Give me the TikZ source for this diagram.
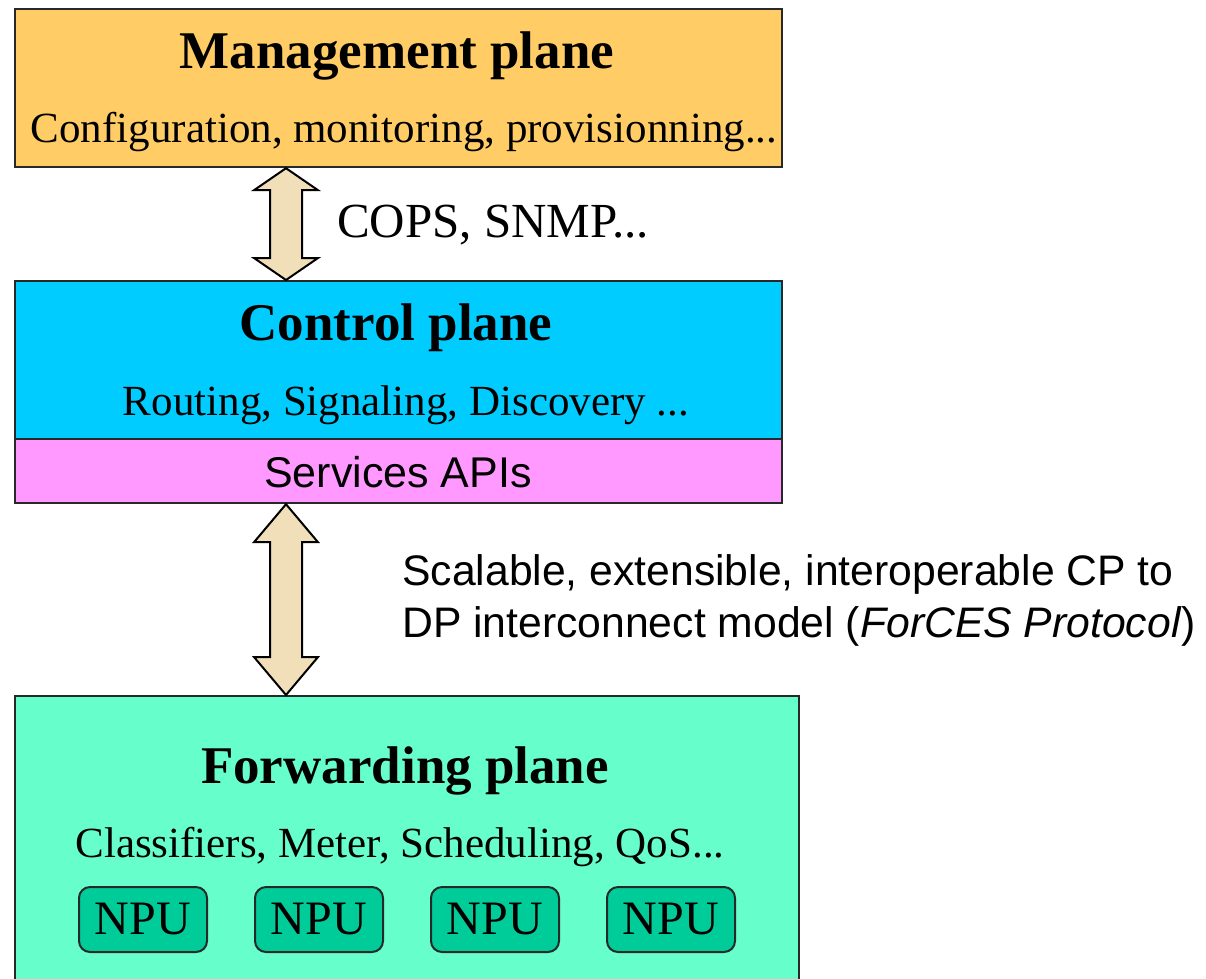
\documentclass[tikz,border=0pt]{standalone}
\usepackage{fontspec}
\setmainfont{Liberation Serif}
\setsansfont{Liberation Sans}
\usetikzlibrary{calc}
\definecolor{mgmtc}{RGB}{255,204,102}
\definecolor{ctrlc}{RGB}{0,204,255}
\definecolor{apic}{RGB}{255,153,255}
\definecolor{fwdc}{RGB}{102,255,204}
\definecolor{npuc}{RGB}{0,204,153}
\definecolor{arrc}{RGB}{241,223,186}
\definecolor{edgec}{RGB}{40,40,40}
\tikzset{
  plane/.style={draw=edgec, line width=2.2pt, inner sep=0pt, anchor=north west},
  title/.style={font=\fontsize{53}{60}\selectfont\bfseries, anchor=base, inner sep=0pt},
  sub/.style={font=\fontsize{43}{50}\selectfont, anchor=base, inner sep=0pt},
  sans/.style={font=\sffamily\fontsize{42.7}{50}\selectfont, anchor=base west, inner sep=0pt},
  npubox/.style={draw=edgec, line width=2pt, fill=npuc, rounded corners=11pt, minimum width=128pt, minimum height=65pt, inner sep=0pt, anchor=north west, font=\fontsize{48}{50}\selectfont},
  dblarrow/.style={draw=black, line width=2pt, fill=arrc, line join=miter}
}
\begin{document}
\begin{tikzpicture}[x=1pt,y=-1pt]
\useasboundingbox (0,0) rectangle (1206,978);
% planes
\node[plane, fill=mgmtc, minimum width=767pt, minimum height=158pt] (mgmt) at (14,8) {};
\node[plane, fill=ctrlc, minimum width=767pt, minimum height=158pt] (ctrl) at (14,280) {};
\node[plane, fill=apic, minimum width=767pt, minimum height=64pt] (api) at (14,438) {};
\node[plane, fill=fwdc, minimum width=784pt, minimum height=300pt] (fwd) at (14,695) {};
% texts
\node[title] (mt) at (397,68) {Management plane};
\node[sub] (ms) at (404,142) {Configuration, monitoring, provisionning...};
\node[title] (ct) at (396,340) {Control plane};
\node[sub] (cs) at (406,415) {Routing, Signaling, Discovery ...};
\node[sub, font=\sffamily\fontsize{43}{50}\selectfont] (at) at (398,487) {Services APIs};
\node[title] (ft) at (405,783) {Forwarding plane};
\node[sub] (fs) at (400,857) {Classifiers, Meter, Scheduling, QoS...};
% NPUs
\node[npubox] (n1) at (78,886) {NPU};
\node[npubox] (n2) at (254,886) {NPU};
\node[npubox] (n3) at (430,886) {NPU};
\node[npubox] (n4) at (606,886) {NPU};
% labels
\node[sub, anchor=base west, font=\fontsize{49}{55}\selectfont] (l1) at (337,237) {COPS, SNMP...};
\node[sans] (l2) at (402,585) {Scalable, extensible, interoperable CP to};
\node[sans] (l3) at (402,637) {DP interconnect model (\textit{ForCES Protocol})};
% arrows
\coordinate (ax) at (286,0);
\path (ax |- mgmt.south) coordinate (t1) (ax |- ctrl.north) coordinate (b1);
\path (ax |- api.south) coordinate (t2) (ax |- fwd.north) coordinate (b2);
\draw[dblarrow] (t1) -- ++(32,22) -- ++(-16,0) -- ($(b1)+(16,-22)$) -- ++(16,0) -- (b1) -- ++(-32,-22) -- ++(16,0) -- ($(t1)+(-16,22)$) -- ++(-16,0) -- cycle;
\draw[dblarrow] (t2) -- ++(32,38) -- ++(-16,0) -- ($(b2)+(16,-38)$) -- ++(16,0) -- (b2) -- ++(-32,-38) -- ++(16,0) -- ($(t2)+(-16,38)$) -- ++(-16,0) -- cycle;
\end{tikzpicture}
\end{document}
